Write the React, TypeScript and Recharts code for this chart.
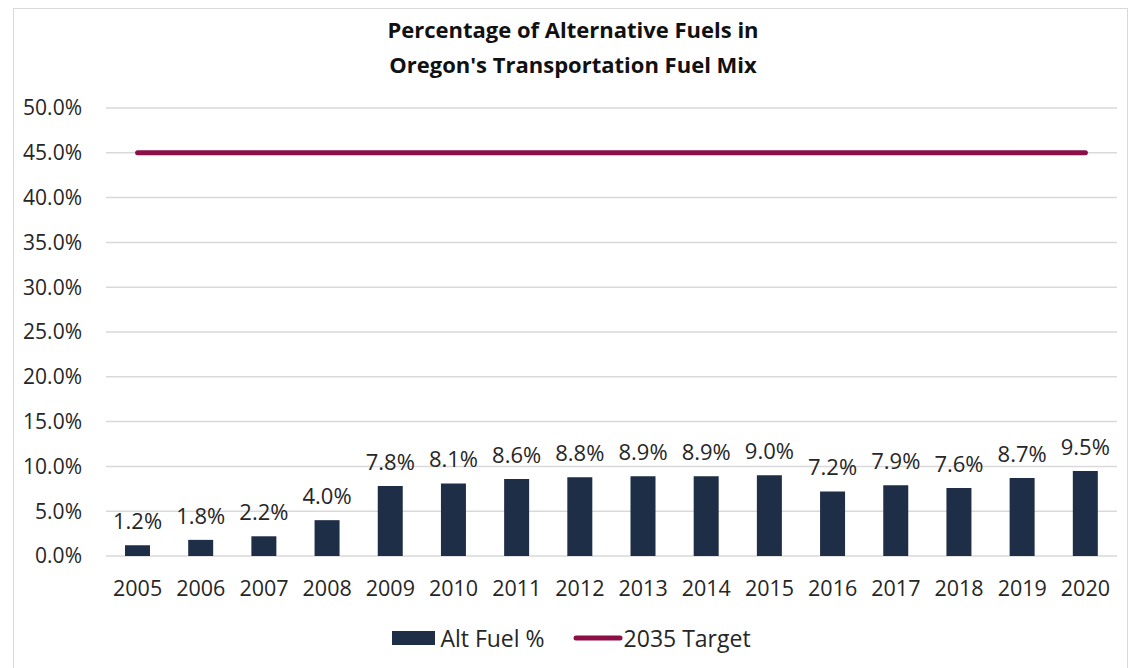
import React from "react";
import { ComposedChart, Bar, Line, XAxis, YAxis, CartesianGrid, LabelList, Legend } from "recharts";

const years = ["2005","2006","2007","2008","2009","2010","2011","2012","2013","2014","2015","2016","2017","2018","2019","2020"];
const altFuel = [1.2,1.8,2.2,4.0,7.8,8.1,8.6,8.8,8.9,8.9,9.0,7.2,7.9,7.6,8.7,9.5];
const target2035 = [45,45,45,45,45,45,45,45,45,45,45,45,45,45,45,45];
const yTicks = [0,5,10,15,20,25,30,35,40,45,50];

const data = years.map((y, i) => ({ year: y, alt: altFuel[i], target: target2035[i] }));

const FONT = "'Open Sans', sans-serif";
const NAVY = "#1f2e47";
const CRIMSON = "#8c0f47";
const TXT = "#262626";

const fmt = (v: number) => `${Number(v).toFixed(1)}%`;

const LegendContent = () => (
  <div style={{ height: 30, display: "flex", justifyContent: "center", alignItems: "center", fontFamily: FONT, fontSize: 23, color: TXT }}>
    <svg width={43} height={14} style={{ marginRight: 5 }}><rect x={0} y={0} width={43} height={14} fill={NAVY} /></svg>
    <span style={{ marginRight: 28 }}>Alt Fuel %</span>
    <svg width={50} height={10} style={{ marginRight: 1 }}><line x1={3} y1={5} x2={47} y2={5} stroke={CRIMSON} strokeWidth={5} strokeLinecap="round" /></svg>
    <span>2035 Target</span>
  </div>
);

export default function App() {
  return (
    <div style={{ position: "absolute", left: 0, top: 0, width: 1132, height: 668, overflow: "hidden", background: "#fff" }}>
      <div style={{ position: "absolute", left: 13, top: 8, width: 1113, height: 700, border: "1.5px solid #d9d9d9" }} />
      <div style={{ position: "absolute", left: 0, top: 12, width: 1146, textAlign: "center", fontFamily: FONT, fontWeight: 700, fontSize: 22, lineHeight: "35px", color: "#111" }}>
        Percentage of Alternative Fuels in<br />Oregon's Transportation Fuel Mix
      </div>
      <div style={{ position: "absolute", left: 0, top: 0 }}>
        <ComposedChart width={1132} height={668} data={data} margin={{ top: 108, right: 15, left: 26, bottom: 32 }}>
          <CartesianGrid vertical={false} stroke="#d9d9d9" strokeWidth={1.5} />
          <XAxis dataKey="year" axisLine={false} tickLine={false} height={50} tickMargin={19}
            tick={{ fontFamily: FONT, fontSize: 21.5, fill: TXT }} interval={0} />
          <YAxis width={80} domain={[0, 50]} ticks={yTicks} tickFormatter={fmt} axisLine={false} tickLine={false}
            tickSize={0} tickMargin={24} tick={{ fontFamily: FONT, fontSize: 21, fill: TXT }} />
          <Bar dataKey="alt" fill={NAVY} barSize={25} isAnimationActive={false}>
            <LabelList dataKey="alt" position="top" offset={16} formatter={(v: any) => fmt(v)}
              style={{ fontFamily: FONT, fontSize: 22, fill: TXT }} />
          </Bar>
          <Line dataKey="target" stroke={CRIMSON} strokeWidth={5} strokeLinecap="round" dot={false} activeDot={false} isAnimationActive={false} />
          <Legend verticalAlign="bottom" content={LegendContent} wrapperStyle={{ bottom: 15 }} />
        </ComposedChart>
      </div>
    </div>
  );
}
